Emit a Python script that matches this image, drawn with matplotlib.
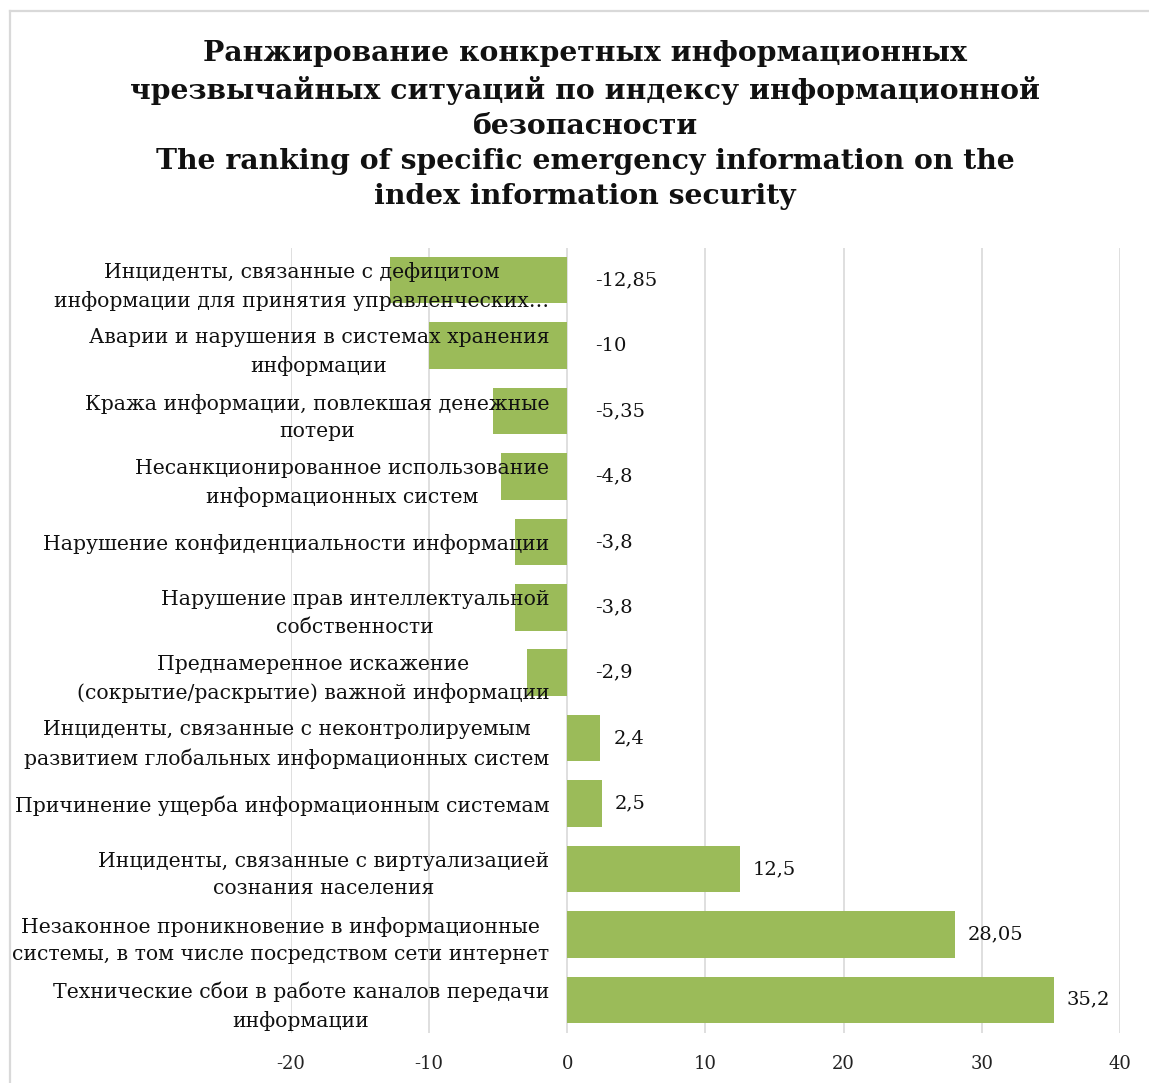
import matplotlib
matplotlib.use("Agg")
import matplotlib.pyplot as plt
from matplotlib.lines import Line2D

categories = [
    "Инциденты, связанные с дефицитом\nинформации для принятия управленческих…",
    "Аварии и нарушения в системах хранения\nинформации",
    "Кража информации, повлекшая денежные\nпотери",
    "Несанкционированное использование\nинформационных систем",
    "Нарушение конфиденциальности информации",
    "Нарушение прав интеллектуальной\nсобственности",
    "Преднамеренное искажение\n(сокрытие/раскрытие) важной информации",
    "Инциденты, связанные с неконтролируемым\nразвитием глобальных информационных систем",
    "Причинение ущерба информационным системам",
    "Инциденты, связанные с виртуализацией\nсознания населения",
    "Незаконное проникновение в информационные\nсистемы, в том числе посредством сети интернет",
    "Технические сбои в работе каналов передачи\nинформации",
]
values = [-12.85, -10, -5.35, -4.8, -3.8, -3.8, -2.9, 2.4, 2.5, 12.5, 28.05, 35.2]
x_ticks = [-20, -10, 0, 10, 20, 30, 40]
title = ("Ранжирование конкретных информационных\n"
         "чрезвычайных ситуаций по индексу информационной\n"
         "безопасности\n"
         "The ranking of specific emergency information on the\n"
         "index information security")

W, H = 1149, 1083
fig = plt.figure(figsize=(W / 100, H / 100), dpi=100)
fig.patch.set_facecolor("white")

FONT = "DejaVu Serif"
BAR = "#9BBB59"
GRID = "#D9D9D9"

ax = fig.add_axes([291 / W, 1 - 1032.5 / H, (1120 - 291) / W, (1032.5 - 247.5) / H])
y = list(range(len(categories)))
ax.barh(y, values, height=0.71, color=BAR, zorder=1)

ax.set_xlim(x_ticks[0], x_ticks[-1])
ax.set_ylim(len(categories) - 0.5, -0.5)
ax.set_xticks(x_ticks)
ax.set_xticklabels([str(t) for t in x_ticks], fontsize=13, family=FONT, color="#222222")
ax.tick_params(axis="x", length=0, pad=16)
ax.grid(axis="x", color=GRID, linewidth=1.2)
ax.set_axisbelow(True)

for s in ["top", "right", "bottom"]:
    ax.spines[s].set_visible(False)
ax.spines["left"].set_position(("data", 0))
ax.spines["left"].set_visible(False)
ax.set_yticks(y)
ax.set_yticklabels(categories, fontsize=14.7, family=FONT, color="#111111")
ax.tick_params(axis="y", length=0, pad=13)
for t in ax.get_yticklabels():
    t.set_multialignment("center")
    t.set_linespacing(1.55)
ax.yaxis.set_zorder(3)

for i, v in enumerate(values):
    label = ("%g" % v).replace(".", ",")
    if v >= 0:
        ax.annotate(label, xy=(v, i), xytext=(13, 0), textcoords="offset pixels",
                    ha="left", va="center", fontsize=14, family=FONT, color="#111111", zorder=4)
    else:
        ax.annotate(label, xy=(0, i), xytext=(28, 0), textcoords="offset pixels",
                    ha="left", va="center", fontsize=14, family=FONT, color="#111111", zorder=4)

fig.text(585 / W, 1 - 125 / H, title, ha="center", va="center", fontsize=20.3,
         fontweight="bold", family=FONT, linespacing=1.38, color="#111111")

fig.add_artist(Line2D([10 / W, 10 / W], [0, 1 - 11 / H], transform=fig.transFigure,
                      color=GRID, linewidth=1.6))
fig.add_artist(Line2D([10 / W, 1], [1 - 11 / H, 1 - 11 / H], transform=fig.transFigure,
                      color=GRID, linewidth=1.6))

fig.savefig("out.png", dpi=100, facecolor="white")
